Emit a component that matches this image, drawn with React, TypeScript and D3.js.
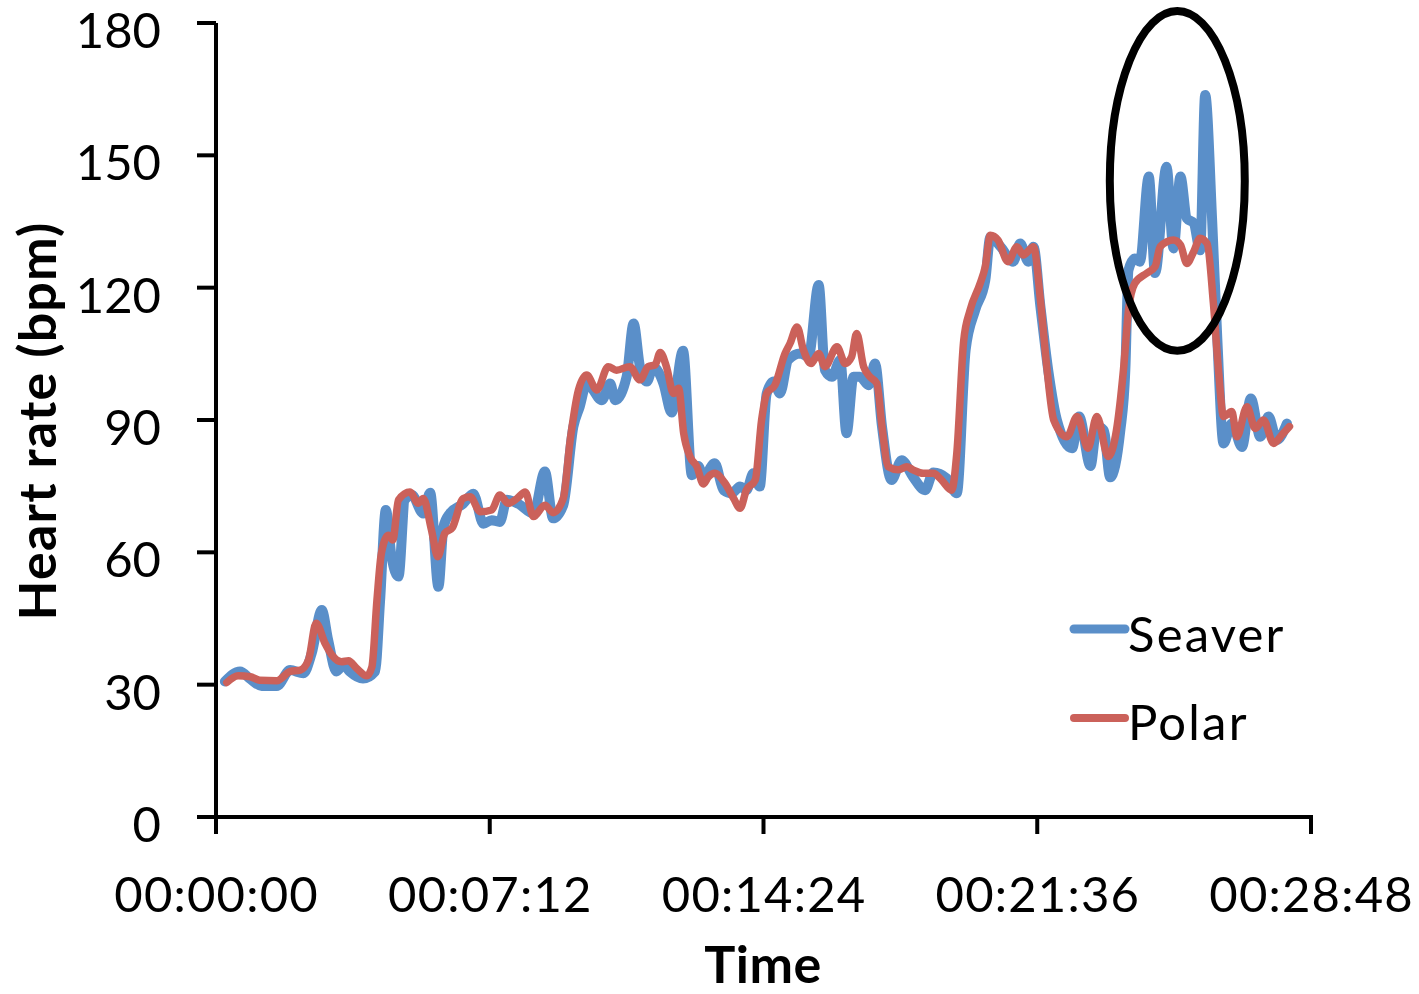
import React from "react";
import * as d3 from "d3";

// ---- Data (seconds since start, heart rate in bpm) ----
const seaverTime = [14, 38, 54, 72, 96, 117, 138, 151, 167, 177, 190, 201, 211, 232, 251, 259, 268, 277, 288, 298, 309, 327, 338, 351, 359, 369, 390, 406, 422, 435, 448, 459, 477, 501, 519, 532, 548, 564, 574, 585, 609, 622, 630, 648, 659, 669, 680, 690, 706, 719, 737, 751, 761, 769, 787, 801, 814, 827, 837, 848, 858, 869, 880, 890, 903, 922, 935, 951, 961, 972, 985, 995, 1006, 1016, 1030, 1040, 1051, 1066, 1082, 1100, 1119, 1132, 1153, 1169, 1183, 1198, 1214, 1222, 1238, 1258, 1269, 1282, 1290, 1301, 1314, 1327, 1351, 1362, 1380, 1390, 1401, 1411, 1427, 1435, 1440, 1450, 1458, 1472, 1482, 1500, 1511, 1522, 1532, 1543, 1553, 1561, 1572, 1580, 1590, 1603, 1619, 1633, 1648, 1661, 1674, 1690];
const seaverHr = [30.7, 33, 31.3, 29.7, 29.7, 33.3, 32.6, 37.1, 46.9, 40.1, 33, 34.5, 33, 31.4, 33, 49.2, 69.6, 59, 54.5, 71.9, 73, 68.8, 73.5, 52.2, 65.8, 68.8, 71, 73.3, 66.5, 67.3, 66.9, 71.9, 71, 68.8, 78.3, 67.7, 70.7, 88.5, 93, 98.3, 94.5, 98.3, 94.5, 99.8, 111.9, 102.1, 98.7, 102.1, 98.3, 91.7, 105.7, 77.5, 79.6, 77.1, 80.2, 74.1, 73.4, 74.9, 74.1, 77.9, 74.9, 96, 98.7, 96, 103.6, 105.1, 104.3, 120.6, 101.3, 99.8, 103.6, 87, 99.8, 99.8, 97.9, 102.8, 88.5, 76.4, 80.9, 77.1, 74.1, 78.1, 76.8, 73.4, 105.9, 114.9, 121.7, 131.5, 129.3, 125.9, 130, 125.9, 129.3, 115.7, 100.6, 90, 83.6, 90.8, 79.6, 88.5, 87.7, 77, 87.5, 101.3, 124, 126.6, 125.9, 145.2, 123.3, 147.4, 128.9, 145.2, 135.7, 134.6, 128.5, 163.7, 135.3, 108.9, 84.7, 89.2, 83.9, 94.9, 86.2, 90.8, 85.5, 89.2];

const polarTime = [17, 35, 54, 69, 96, 117, 133, 146, 158, 172, 183, 198, 209, 222, 238, 246, 254, 261, 272, 279, 288, 306, 319, 327, 340, 350, 361, 373, 390, 401, 417, 435, 448, 461, 475, 488, 501, 519, 532, 548, 559, 572, 585, 601, 619, 632, 653, 669, 682, 693, 701, 711, 722, 730, 738, 748, 759, 769, 777, 787, 803, 817, 827, 837, 851, 861, 869, 882, 898, 906, 917, 927, 939, 951, 961, 980, 993, 1003, 1011, 1022, 1032, 1043, 1051, 1061, 1077, 1090, 1100, 1116, 1132, 1145, 1161, 1169, 1180, 1190, 1206, 1214, 1222, 1234, 1250, 1264, 1274, 1290, 1301, 1311, 1322, 1343, 1359, 1376, 1390, 1408, 1421, 1432, 1440, 1450, 1469, 1482, 1490, 1511, 1522, 1532, 1543, 1553, 1564, 1574, 1582, 1590, 1603, 1611, 1627, 1640, 1653, 1669, 1682, 1694];
const polarHr = [30.5, 32, 31.8, 31, 30.9, 33, 33.3, 35.6, 43.9, 39.4, 36.7, 35.2, 35.4, 33.7, 32, 34, 49.2, 59.8, 63.9, 62.8, 71.9, 73.7, 71.1, 72.2, 65.1, 59, 64.3, 65.6, 72.2, 72.6, 69.2, 69.6, 73, 71.1, 72.2, 73.7, 68.1, 70.7, 69, 72.2, 85.5, 96.8, 100.2, 96.8, 102.1, 101.3, 102.1, 99.1, 102.1, 102.5, 105.3, 102, 96, 97.2, 87, 81.7, 79.4, 75.5, 77.1, 77.9, 75.7, 72.2, 70, 74.1, 76.4, 90, 96, 97.9, 105.1, 107.4, 111.1, 105.9, 102.8, 105.1, 102.1, 106.6, 102.8, 104.3, 109.6, 102.1, 99.8, 98.3, 88.5, 79.4, 78.7, 79.4, 78.7, 77.9, 77.9, 76.4, 74.1, 82.4, 108.1, 114.9, 121, 124.8, 131.9, 130.8, 125.9, 129.3, 127.4, 129.3, 117.2, 102.1, 90, 86.2, 90.8, 83.6, 90.8, 81.7, 87.7, 101.3, 114.9, 121, 123.3, 124.8, 129.3, 130.8, 129.7, 125.5, 128.2, 131.2, 130, 116.4, 101.3, 90.8, 91.9, 86.2, 93, 88.1, 90, 84.7, 86.6, 88.5];

const xTicks = [0, 432, 864, 1296, 1728];
const xTickLabels = ["00:00:00", "00:07:12", "00:14:24", "00:21:36", "00:28:48"];
const yTicks = [0, 30, 60, 90, 120, 150, 180];
const seriesNames = ["Seaver", "Polar"];

// highlighted region (annotation ellipse) in data units
const highlightCenter = [1517, 144.2];
const highlightRadius = [106.5, 38.5];

const W = 1419;
const H = 994;
const FONT = "Lato, 'Open Sans', sans-serif";
const BLUE = "#5A8FC9";
const RED = "#CB615A";

export default function App() {
  const x = d3.scaleLinear().domain([0, 1728]).range([216, 1311]);
  const y = d3.scaleLinear().domain([0, 180]).range([817, 23]);

  const line = d3
    .line<[number, number]>()
    .x((d) => x(d[0]))
    .y((d) => y(d[1]))
    .curve(d3.curveMonotoneX);

  const seaver = seaverTime.map((t, i) => [t, seaverHr[i]] as [number, number]);
  const polar = polarTime.map((t, i) => [t, polarHr[i]] as [number, number]);

  const ecx = x(highlightCenter[0]);
  const ecy = y(highlightCenter[1]);
  const erx = x(highlightCenter[0] + highlightRadius[0]) - ecx;
  const ery = ecy - y(highlightCenter[1] + highlightRadius[1]);

  return (
    <svg
      width={W}
      height={H}
      style={{ position: "absolute", left: 0, top: 0, background: "#fff" }}
      fontFamily={FONT}
    >
      <rect x={0} y={0} width={W} height={H} fill="#fff" />
      {/* series */}
      <path d={line(seaver) || ""} fill="none" stroke={BLUE} strokeWidth={10} strokeLinejoin="round" strokeLinecap="round" />
      <path d={line(polar) || ""} fill="none" stroke={RED} strokeWidth={7.5} strokeLinejoin="round" strokeLinecap="round" />

      {/* y axis */}
      <line x1={x(0)} x2={x(0)} y1={y(180)} y2={y(0)} stroke="#000" strokeWidth={4} />
      {yTicks.map((v) => (
        <g key={v}>
          <line x1={x(0) - 19} x2={x(0)} y1={y(v)} y2={y(v)} stroke="#000" strokeWidth={4} />
          <text x={161} y={y(v) + 25} textAnchor="end" fontSize={49} fill="#000">
            {v}
          </text>
        </g>
      ))}
      {/* x axis */}
      <line x1={x(0) - 19} x2={x(1728) + 2} y1={y(0)} y2={y(0)} stroke="#000" strokeWidth={4} />
      {xTicks.map((t, i) => (
        <g key={t}>
          <line x1={x(t)} x2={x(t)} y1={y(0)} y2={y(0) + 17} stroke="#000" strokeWidth={4} />
          <text x={x(t) + 0.6} y={912} textAnchor="middle" fontSize={49} letterSpacing={1.2} fill="#000">
            {xTickLabels[i]}
          </text>
        </g>
      ))}

      {/* axis titles */}
      <text x={763} y={983} textAnchor="middle" fontSize={52} letterSpacing={0.5} fontWeight="bold" fill="#000">
        Time
      </text>
      <text
        transform={`translate(56,421) rotate(-90)`}
        textAnchor="middle"
        fontSize={52}
        letterSpacing={1.2}
        fontWeight="bold"
        fill="#000"
      >
        Heart rate (bpm)
      </text>

      {/* legend */}
      <line x1={1074} x2={1125} y1={629} y2={629} stroke={BLUE} strokeWidth={9} strokeLinecap="round" />
      <text x={1128} y={652} fontSize={49} letterSpacing={2.2} fill="#000">
        {seriesNames[0]}
      </text>
      <line x1={1074} x2={1125} y1={718} y2={718} stroke={RED} strokeWidth={8} strokeLinecap="round" />
      <text x={1128} y={740} fontSize={49} letterSpacing={2.2} fill="#000">
        {seriesNames[1]}
      </text>

      {/* annotation ellipse */}
      <ellipse cx={ecx} cy={ecy} rx={erx} ry={ery} fill="none" stroke="#000" strokeWidth={8} />
    </svg>
  );
}
